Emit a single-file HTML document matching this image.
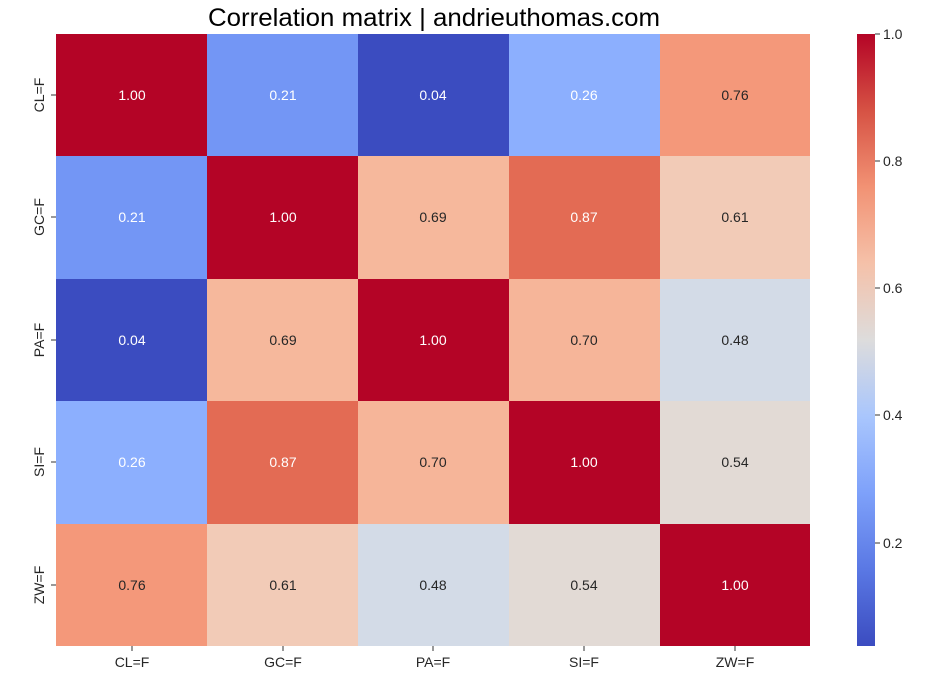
<!DOCTYPE html>
<html><head><meta charset="utf-8"><style>
body{margin:0;background:#fff;width:940px;height:679px;overflow:hidden;font-family:"Liberation Sans",sans-serif;}
</style></head><body>
<svg width="940" height="679" xmlns="http://www.w3.org/2000/svg" font-family="Liberation Sans, sans-serif">
<defs>
<linearGradient id="cw" x1="0" y1="1" x2="0" y2="0">
<stop offset="0" stop-color="#3b4cc0"/>
<stop offset="0.125" stop-color="#5a78e4"/>
<stop offset="0.25" stop-color="#7ea1fa"/>
<stop offset="0.375" stop-color="#a9c6fd"/>
<stop offset="0.5" stop-color="#dddcdc"/>
<stop offset="0.625" stop-color="#f5c1a9"/>
<stop offset="0.75" stop-color="#f29274"/>
<stop offset="0.875" stop-color="#d65244"/>
<stop offset="1" stop-color="#b40426"/>
</linearGradient>
</defs>
<text x="434" y="26" font-size="25" text-anchor="middle" fill="#000" textLength="452" lengthAdjust="spacingAndGlyphs">Correlation matrix | andrieuthomas.com</text>
<g shape-rendering="crispEdges">
<rect x="56" y="34" width="151" height="123" fill="#b40426"/>
<rect x="207" y="34" width="151" height="123" fill="#7396f5"/>
<rect x="358" y="34" width="151" height="123" fill="#3b4cc0"/>
<rect x="509" y="34" width="151" height="123" fill="#8caffe"/>
<rect x="660" y="34" width="150" height="123" fill="#f4987a"/>

<rect x="56" y="156" width="151" height="123" fill="#7396f5"/>
<rect x="207" y="156" width="151" height="123" fill="#b40426"/>
<rect x="358" y="156" width="151" height="123" fill="#f6b89c"/>
<rect x="509" y="156" width="151" height="123" fill="#e36b54"/>
<rect x="660" y="156" width="150" height="123" fill="#f2cbb7"/>

<rect x="56" y="279" width="151" height="123" fill="#3b4cc0"/>
<rect x="207" y="279" width="151" height="123" fill="#f6b89c"/>
<rect x="358" y="279" width="151" height="123" fill="#b40426"/>
<rect x="509" y="279" width="151" height="123" fill="#f6b599"/>
<rect x="660" y="279" width="150" height="123" fill="#d3dbe7"/>

<rect x="56" y="401" width="151" height="123" fill="#8caffe"/>
<rect x="207" y="401" width="151" height="123" fill="#e36b54"/>
<rect x="358" y="401" width="151" height="123" fill="#f6b599"/>
<rect x="509" y="401" width="151" height="123" fill="#b40426"/>
<rect x="660" y="401" width="150" height="123" fill="#e2dad5"/>

<rect x="56" y="524" width="151" height="122" fill="#f4987a"/>
<rect x="207" y="524" width="151" height="122" fill="#f2cbb7"/>
<rect x="358" y="524" width="151" height="122" fill="#d3dbe7"/>
<rect x="509" y="524" width="151" height="122" fill="#e2dad5"/>
<rect x="660" y="524" width="150" height="122" fill="#b40426"/>
</g>
<g font-size="14" text-anchor="middle">
<text x="132" y="100" fill="#fff">1.00</text><text x="283" y="100" fill="#fff">0.21</text><text x="433" y="100" fill="#fff">0.04</text><text x="584" y="100" fill="#fff">0.26</text><text x="735" y="100" fill="#262626">0.76</text>
<text x="132" y="222" fill="#fff">0.21</text><text x="283" y="222" fill="#fff">1.00</text><text x="433" y="222" fill="#262626">0.69</text><text x="584" y="222" fill="#fff">0.87</text><text x="735" y="222" fill="#262626">0.61</text>
<text x="132" y="345" fill="#fff">0.04</text><text x="283" y="345" fill="#262626">0.69</text><text x="433" y="345" fill="#fff">1.00</text><text x="584" y="345" fill="#262626">0.70</text><text x="735" y="345" fill="#262626">0.48</text>
<text x="132" y="467" fill="#fff">0.26</text><text x="283" y="467" fill="#fff">0.87</text><text x="433" y="467" fill="#262626">0.70</text><text x="584" y="467" fill="#fff">1.00</text><text x="735" y="467" fill="#262626">0.54</text>
<text x="132" y="590" fill="#262626">0.76</text><text x="283" y="590" fill="#262626">0.61</text><text x="433" y="590" fill="#262626">0.48</text><text x="584" y="590" fill="#262626">0.54</text><text x="735" y="590" fill="#fff">1.00</text>
</g>
<g stroke="#333" stroke-width="1">
<line x1="132" y1="646" x2="132" y2="651"/><line x1="283" y1="646" x2="283" y2="651"/><line x1="433" y1="646" x2="433" y2="651"/><line x1="584" y1="646" x2="584" y2="651"/><line x1="735" y1="646" x2="735" y2="651"/>
<line x1="51" y1="95" x2="56" y2="95"/><line x1="51" y1="217" x2="56" y2="217"/><line x1="51" y1="340" x2="56" y2="340"/><line x1="51" y1="462" x2="56" y2="462"/><line x1="51" y1="585" x2="56" y2="585"/>
</g>
<g font-size="14" fill="#262626" text-anchor="middle">
<text x="132" y="667">CL=F</text><text x="283" y="667">GC=F</text><text x="433" y="667">PA=F</text><text x="584" y="667">SI=F</text><text x="735" y="667">ZW=F</text>
<text transform="translate(44,95) rotate(-90)">CL=F</text>
<text transform="translate(44,217) rotate(-90)">GC=F</text>
<text transform="translate(44,340) rotate(-90)">PA=F</text>
<text transform="translate(44,462) rotate(-90)">SI=F</text>
<text transform="translate(44,585) rotate(-90)">ZW=F</text>
</g>
<rect x="857" y="34" width="18" height="612" fill="url(#cw)"/>
<g stroke="#333"><line x1="875" y1="34" x2="880" y2="34"/><line x1="875" y1="161" x2="880" y2="161"/><line x1="875" y1="288" x2="880" y2="288"/><line x1="875" y1="415" x2="880" y2="415"/><line x1="875" y1="543" x2="880" y2="543"/></g>
<g font-size="14" fill="#262626">
<text x="883" y="39">1.0</text><text x="883" y="166">0.8</text><text x="883" y="293">0.6</text><text x="883" y="420">0.4</text><text x="883" y="548">0.2</text>
</g>
</svg>
</body></html>
